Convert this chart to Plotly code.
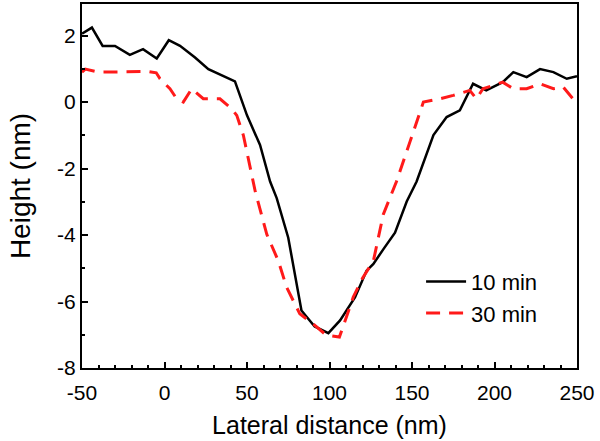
import plotly.graph_objects as go

x_10 = [-50, -44, -37.5, -30, -21, -13, -4.7, 2.6, 9.4, 18.5, 26.6, 34.6, 42.7, 50, 57.9, 64, 68, 75, 83, 91, 99.3, 106.4, 115.5, 122.5, 126.6, 133, 139.7, 146.8, 152.8, 163, 171, 179, 187, 195, 205, 211.4, 219.5, 227.6, 235.7, 243.8, 250]
y_10 = [2.06, 2.24, 1.69, 1.69, 1.42, 1.59, 1.31, 1.86, 1.69, 1.34, 0.99, 0.81, 0.62, -0.4, -1.29, -2.39, -2.89, -4.08, -6.27, -6.75, -6.95, -6.57, -5.87, -5.07, -4.87, -4.4, -3.93, -2.99, -2.39, -0.99, -0.45, -0.25, 0.55, 0.35, 0.6, 0.9, 0.75, 0.99, 0.9, 0.7, 0.78]

x_30 = [-50, -48, -40, -30, -20, -10, -5, -2.7, 3.3, 7.4, 11.4, 16.5, 23.5, 33.6, 40.7, 43.8, 47.8, 55, 62, 69, 74, 82, 90, 98, 106, 114.4, 120, 126.6, 132.6, 140.6, 148.8, 156.9, 167, 175, 185, 189, 193, 205, 211.4, 219.5, 227.6, 235.7, 241.7, 250]
y_30 = [0.9, 0.99, 0.9, 0.9, 0.9, 0.92, 0.88, 0.7, 0.4, 0.1, 0.0, 0.4, 0.1, 0.1, -0.2, -0.4, -1.0, -2.69, -3.98, -4.78, -5.57, -6.37, -6.67, -7.01, -7.07, -5.87, -5.3, -4.78, -3.38, -2.39, -1.19, 0.0, 0.1, 0.2, 0.35, 0.1, 0.4, 0.6, 0.4, 0.4, 0.55, 0.4, 0.45, -0.05]

x_ticks = [-50, 0, 50, 100, 150, 200, 250]
x_ticktext = ["-50", "0", "50", "100", "150", "200", "250"]
y_ticks = [-8, -6, -4, -2, 0, 2]
y_ticktext = ["-8", "-6", "-4", "-2", "0", "2"]

FONT = "Liberation Sans, Arial, sans-serif"

fig = go.Figure()
fig.add_trace(go.Scatter(x=x_10, y=y_10, mode="lines", name="10 min",
                         line=dict(color="black", width=2.5)))
fig.add_trace(go.Scatter(x=x_30, y=y_30, mode="lines", name="30 min",
                         line=dict(color="#ff1a1a", width=3, dash="14px,9px")))

axis_common = dict(showline=True, linecolor="black", linewidth=2, mirror=True,
                   ticks="inside", ticklen=6, tickwidth=2, tickcolor="black",
                   showgrid=False, zeroline=False,
                   tickfont=dict(family=FONT, size=21, color="black"))

fig.update_xaxes(range=[-50, 250], tickvals=x_ticks, ticktext=x_ticktext,
                 ticklabelstandoff=5,
                 minor=dict(ticks="inside", ticklen=3, tickwidth=1.5, tickcolor="black", dtick=10, tick0=0),
                 title=dict(text="Lateral distance (nm)", standoff=13,
                            font=dict(family=FONT, size=25, color="black")),
                 **axis_common)
fig.update_yaxes(range=[-8, 2.95], tickvals=y_ticks, ticktext=y_ticktext,
                 minor=dict(ticks="inside", ticklen=3, tickwidth=1.5, tickcolor="black", dtick=1, tick0=0),
                 title=dict(text="Height (nm)", standoff=18,
                            font=dict(family=FONT, size=28, color="black")),
                 **axis_common)

fig.update_layout(width=600, height=441,
                  margin=dict(l=82, r=23, t=2, b=73),
                  plot_bgcolor="white", paper_bgcolor="white",
                  legend=dict(x=0.685, y=0.295, xanchor="left", yanchor="top",
                              bgcolor="rgba(0,0,0,0)",
                              font=dict(family=FONT, size=22, color="black"),
                              itemwidth=40, tracegroupgap=0))

fig.write_html("out.html", config={"displayModeBar": False},
               post_script="document.body.style.margin='0';")
